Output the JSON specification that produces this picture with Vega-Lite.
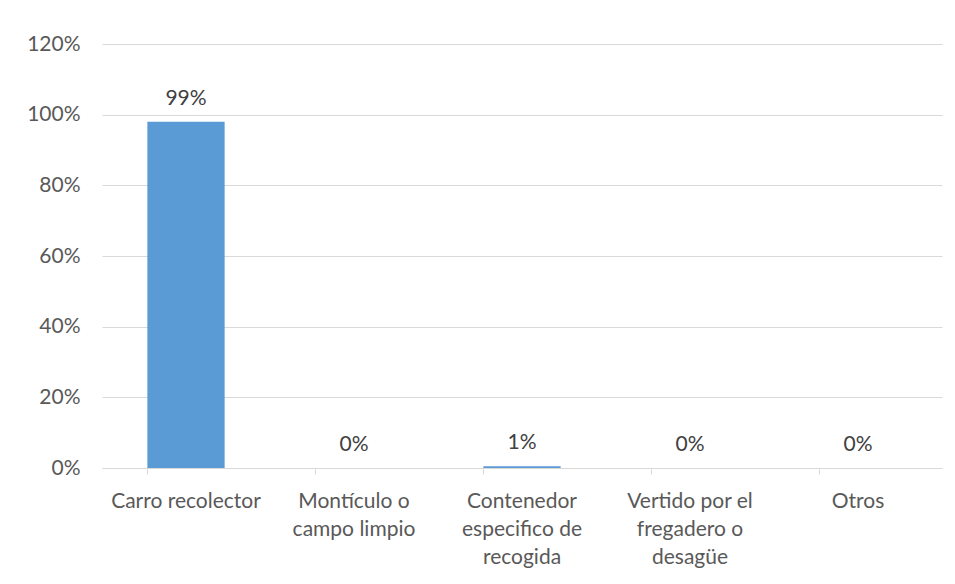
{
  "$schema": "https://vega.github.io/schema/vega-lite/v6.json",
  "width": 840,
  "height": 424,
  "autosize": {"type": "none"},
  "padding": {"left": 102, "top": 44, "right": 13, "bottom": 116},
  "background": "white",
  "config": {
    "view": {"stroke": null},
    "font": "Lato",
    "axis": {"labelFont": "Lato", "labelFontSize": 21, "labelColor": "#595959"}
  },
  "data": {
    "values": [
      {"categoria": "Carro recolector", "valor": 0.98, "etiqueta": "99%"},
      {"categoria": "Montículo o|campo limpio", "valor": 0.0, "etiqueta": "0%"},
      {"categoria": "Contenedor|especifico de|recogida", "valor": 0.005, "etiqueta": "1%"},
      {"categoria": "Vertido por el|fregadero o|desagüe", "valor": 0.0, "etiqueta": "0%"},
      {"categoria": "Otros", "valor": 0.0, "etiqueta": "0%"}
    ]
  },
  "encoding": {
    "x": {
      "field": "categoria",
      "type": "nominal",
      "sort": null,
      "scale": {"paddingInner": 0.54, "paddingOuter": 0.27},
      "axis": {
        "title": null,
        "labelAngle": 0,
        "labelExpr": "split(datum.value, '|')",
        "labelPadding": 16,
        "labelLineHeight": 28,
        "domainColor": "#d9d9d9",
        "tickColor": "#d9d9d9",
        "tickSize": 6,
        "bandPosition": 0,
        "grid": false
      }
    },
    "y": {
      "field": "valor",
      "type": "quantitative",
      "scale": {"domain": [0, 1.2]},
      "axis": {
        "title": null,
        "format": ".0%",
        "values": [0, 0.2, 0.4, 0.6, 0.8, 1.0, 1.2],
        "domain": false,
        "ticks": false,
        "labelPadding": 22,
        "gridColor": "#d9d9d9",
        "gridWidth": 1
      }
    }
  },
  "layer": [
    {"mark": {"type": "bar", "color": "#5B9BD5"}},
    {
      "mark": {"type": "text", "baseline": "bottom", "dy": -13, "fontSize": 21, "font": "Lato", "color": "#404040"},
      "encoding": {"text": {"field": "etiqueta", "type": "nominal"}}
    }
  ]
}
